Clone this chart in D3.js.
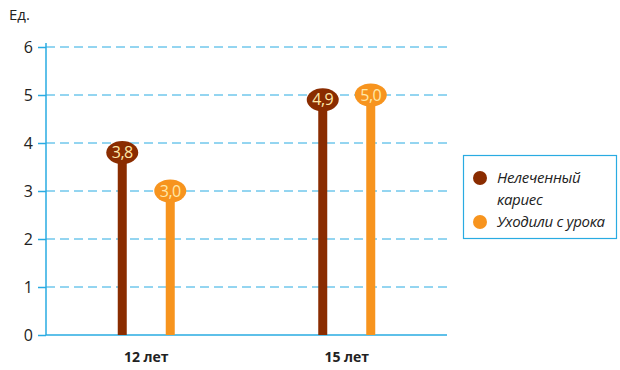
<!DOCTYPE html>
<html><head><meta charset="utf-8">
<script src="https://cdn.jsdelivr.net/npm/d3@7"></script>
<style>body{margin:0;background:#fff}svg{display:block}text{font-family:"Open Sans",sans-serif}</style>
</head><body><svg id="c" width="620" height="370"></svg>
<script>
const categories = ["12 лет", "15 лет"];
const seriesNames = ["Нелеченный кариес", "Уходили с урока"];
const untreatedCaries = [3.8, 4.9];
const leftLesson = [3.0, 5.0];
const yTicks = [0, 1, 2, 3, 4, 5, 6];
const colors = ["#8a2c00", "#f7941e"];
const axisColor = "#29abe2";

const svg = d3.select("#c");
const x0 = 46, x1 = 447;
const y = d3.scaleLinear().domain([0, 6]).range([335, 47]);
const xc = d3.scaleBand().domain(categories).range([x0, x1]);
const xs = d3.scalePoint().domain([0, 1]).range([-24, 24]);
const fmt = v => d3.format(".1f")(v).replace(".", ",");

// dashed gridlines
svg.append("g").selectAll("line").data(yTicks.filter(d => d > 0)).join("line")
  .attr("x1", x0).attr("x2", x1).attr("y1", d => y(d)).attr("y2", d => y(d))
  .attr("stroke", axisColor).attr("stroke-width", 1).attr("stroke-dasharray", "9,5");

// y axis
const yAxis = d3.axisLeft(y).tickValues(yTicks).tickSize(8).tickFormat(d => d);
const gy = svg.append("g").attr("transform", `translate(${x0},0)`).call(yAxis);
gy.select(".domain").attr("stroke", axisColor).attr("stroke-width", 1.5).attr("d", `M-0,${y(6)-4}V${y(0)}`);
gy.selectAll(".tick line").attr("stroke", axisColor).attr("stroke-width", 1.5);
gy.selectAll(".tick text").attr("font-size", 16).attr("fill", "#222").attr("x", -13).attr("dy", "0.35em");

// baseline
svg.append("line").attr("x1", x0).attr("x2", x1).attr("y1", y(0)).attr("y2", y(0))
  .attr("stroke", axisColor).attr("stroke-width", 1.5);

svg.append("text").attr("x", 9).attr("y", 20).attr("font-size", 15).attr("fill", "#222").text("Ед.");

// category labels
svg.append("g").selectAll("text").data(categories).join("text")
  .attr("x", d => xc(d) + xc.bandwidth() / 2).attr("y", 362)
  .attr("text-anchor", "middle").attr("font-size", 14).attr("font-weight", "bold").attr("fill", "#222").text(d => d);

// lollipop bars
const series = [untreatedCaries, leftLesson];
series.forEach((vals, si) => {
  const g = svg.append("g");
  const cx = (d, i) => xc(categories[i]) + xc.bandwidth() / 2 + xs(si);
  g.selectAll("rect").data(vals).join("rect")
    .attr("x", (d, i) => cx(d, i) - 4.5).attr("width", 9)
    .attr("y", d => y(d)).attr("height", d => y(0) - y(d)).attr("fill", colors[si]);
  g.selectAll("ellipse").data(vals).join("ellipse")
    .attr("cx", cx).attr("cy", d => y(d)).attr("rx", 16).attr("ry", 11.5).attr("fill", colors[si]);
  g.selectAll("text").data(vals).join("text")
    .attr("x", cx).attr("y", d => y(d) + 5.5).attr("text-anchor", "middle")
    .attr("font-size", 16).attr("letter-spacing", -0.5).attr("fill", "#ffe8a8").text(fmt);
});

// legend
const lg = svg.append("g");
lg.append("rect").attr("x", 463.5).attr("y", 155.5).attr("width", 153).attr("height", 83)
  .attr("fill", "#fff").attr("stroke", axisColor).attr("stroke-width", 1.2);
const legendRows = [[["Нелеченный", "кариес"], 178], [["Уходили с урока"], 222]];
legendRows.forEach(([lines, yy], i) => {
  lg.append("circle").attr("cx", 480).attr("cy", yy).attr("r", 7).attr("fill", colors[i]);
  const t = lg.append("text").attr("x", 497).attr("y", yy + 5).attr("font-size", 15)
    .attr("font-style", "italic").attr("letter-spacing", -0.3).attr("fill", "#222");
  lines.forEach((l, k) => t.append("tspan").attr("x", 497).attr("dy", k ? 22 : 0).text(l));
});
</script></body></html>
